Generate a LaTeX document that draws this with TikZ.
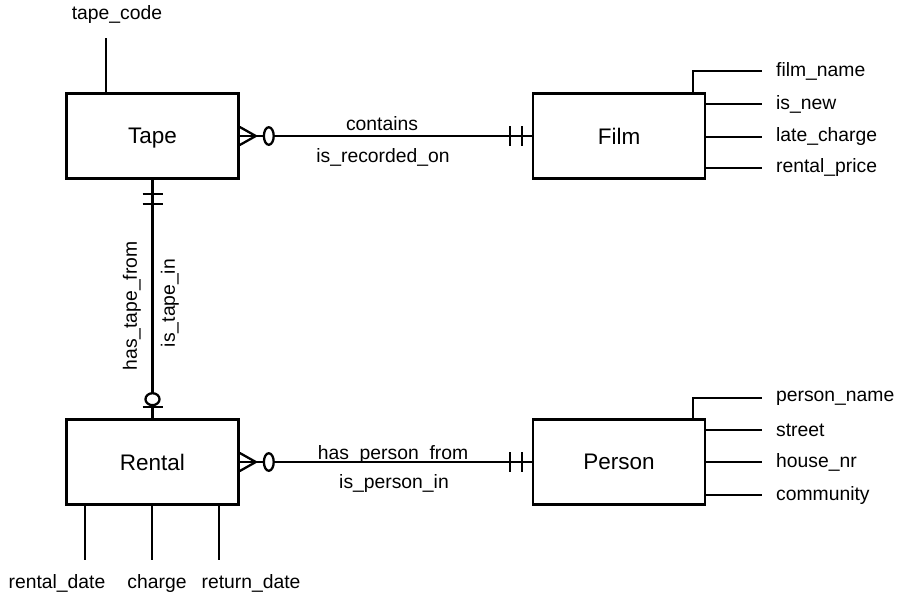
\documentclass[tikz,border=0pt]{standalone}
\usepackage{fontspec}
\setmainfont{Liberation Sans}
\usetikzlibrary{calc}

\tikzset{
  entity/.style={draw, line width=1.5pt, minimum width=3.44cm, minimum height=1.7cm, inner sep=0pt, text depth=0pt, font=\fontsize{12.8}{15}\selectfont},
  attr/.style={inner sep=0pt, font=\fontsize{11}{13}\selectfont},
  attrr/.style={attr, anchor=west, inner xsep=7.4pt},
  rel/.style={inner sep=0pt, font=\fontsize{11}{13}\selectfont},
  ring/.style={draw, fill=white, line width=1.3pt}
}

\begin{document}
\begin{tikzpicture}[x=0.02cm, y=-0.02cm, line width=1.3pt]
    \useasboundingbox (0,0) rectangle (909,595);

    % Entities
    \node[entity] (tape) at (152.5,136) {Tape};
    \node[entity] (film) at (619,136) {Film};
    \node[entity] (rental) at (152.5,462) {Rental};
    \node[entity] (person) at (619,462) {Person};

    % Tape -- Film (zero or many / one and only one)
    \draw (tape.east) -- (film.west);
    \draw ($(tape.east)+(0,-9)$) -- ($(tape.east)+(16,0)$) -- ($(tape.east)+(0,9)$);
    \draw[ring] ($(tape.east)+(29,0)$) ellipse [x radius=2.8pt, y radius=5pt];
    \draw ($(film.west)+(-22,-10)$) -- ++(0,20);
    \draw ($(film.west)+(-10,-10)$) -- ++(0,20);
    \node[rel] (contains) at (382,124) {contains};
    \node[rel] (recorded) at (383,157) {is\_recorded\_on};

    % Tape -- Rental (one and only one / zero or one)
    \draw (tape.south) -- (rental.north);
    \draw ($(tape.south)+(-10,14)$) -- ++(20,0);
    \draw ($(tape.south)+(-10,24)$) -- ++(20,0);
    \draw[ring] ($(rental.north)+(0,-19)$) ellipse [x radius=4pt, y radius=3.4pt];
    \draw ($(rental.north)+(-10,-11)$) -- ++(20,0);
    \node[rel, rotate=90] (hastape) at (132,306) {has\_tape\_from};
    \node[rel, rotate=90] (istape) at (170,303) {is\_tape\_in};

    % Rental -- Person (zero or many / one and only one)
    \draw (rental.east) -- (person.west);
    \draw ($(rental.east)+(0,-9)$) -- ($(rental.east)+(16,0)$) -- ($(rental.east)+(0,9)$);
    \draw[ring] ($(rental.east)+(29,0)$) ellipse [x radius=2.8pt, y radius=5pt];
    \draw ($(person.west)+(-22,-10)$) -- ++(0,20);
    \draw ($(person.west)+(-10,-10)$) -- ++(0,20);
    \node[rel] (hasperson) at (393,454) {has\_person\_from};
    \node[rel] (isperson) at (394,483) {is\_person\_in};

    % Attributes of Tape
    \node[attr] (tapecode) at (117,15) {tape\_code};
    \draw ($(tape.north west)+(41,0)$) -- ++(0,-54);

    % Attributes of Film
    \node[attrr] (filmname) at (762,71) {film\_name};
    \node[attrr] (isnew) at (762,104) {is\_new};
    \node[attrr] (latecharge) at (762,137) {late\_charge};
    \node[attrr] (rentalprice) at (762,168) {rental\_price};
    \draw ($(film.north east)+(-13,0)$) |- (filmname.west);
    \draw (film.east |- isnew) -- (isnew.west);
    \draw (film.east |- latecharge) -- (latecharge.west);
    \draw (film.east |- rentalprice) -- (rentalprice.west);

    % Attributes of Person
    \node[attrr] (personname) at (762,398) {person\_name};
    \node[attrr] (street) at (762,430) {street};
    \node[attrr] (housenr) at (762,462) {house\_nr};
    \node[attrr] (community) at (762,495) {community};
    \draw ($(person.north east)+(-13,0)$) |- (personname.west);
    \draw (person.east |- street) -- (street.west);
    \draw (person.east |- housenr) -- (housenr.west);
    \draw (person.east |- community) -- (community.west);

    % Attributes of Rental
    \node[attr] (rentaldate) at (57,583) {rental\_date};
    \node[attr] (charge) at (157,583) {charge};
    \node[attr] (returndate) at (251,583) {return\_date};
    \draw ($(rental.south west)+(20,0)$) -- ++(0,54);
    \draw ($(rental.south west)+(87,0)$) -- ++(0,54);
    \draw ($(rental.south west)+(154,0)$) -- ++(0,54);
\end{tikzpicture}
\end{document}
